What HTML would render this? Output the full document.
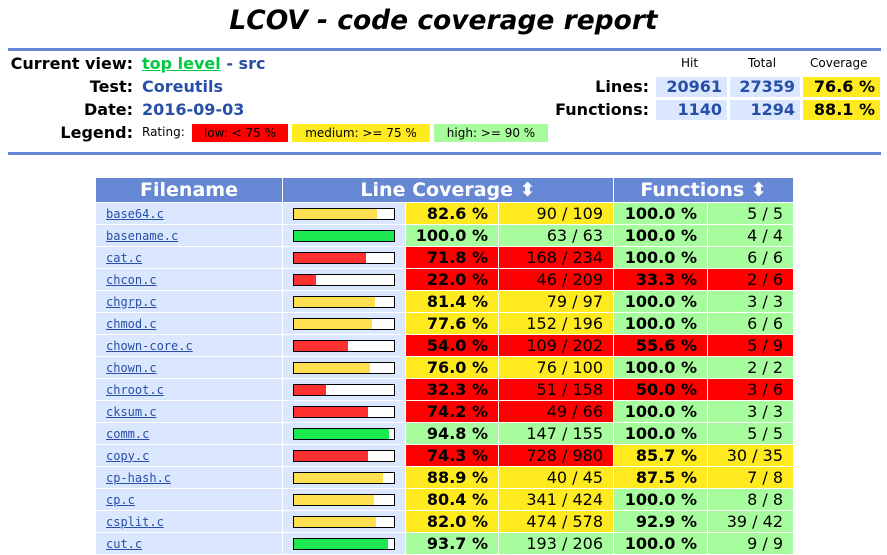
<!DOCTYPE html>
<html><head><meta charset="utf-8"><style>
body{margin:0;width:887px;height:549px;overflow:hidden;background:#fff;font-family:"DejaVu Sans","Liberation Sans",sans-serif;}
.a{position:absolute;white-space:nowrap}
.t{font-weight:bold;font-size:16px}
.hr{position:absolute;left:8px;width:873px;height:3px;background:#6688d4}
.v{color:#284fa8}
.box{position:absolute;height:20px;line-height:20px;font-weight:bold;font-size:16px;text-align:right;padding-right:5px;box-sizing:border-box}
.lg{font-size:12px;line-height:18px;text-align:center;height:18px;top:124px;position:absolute}
table{position:absolute;left:95px;top:177px;border-collapse:separate;border-spacing:1px;font-size:16px}
th{background:#6688d4;color:#fff;font-size:19px;height:24px;padding:0;font-weight:bold}
td{height:21px;padding:0}
td.f{background:#dae7fe;width:186px;font-size:12px;padding-left:10px;box-sizing:border-box}
td.f a{color:#284fa8;text-decoration:underline;font-family:"DejaVu Sans Mono","Liberation Mono",monospace}
td.b{background:#dae7fe;width:122px}
.bar{margin-left:10px;width:100px;height:10px;border:1px solid #000;background:#fff;position:relative}
.bar i{position:absolute;left:0;top:0;bottom:0}
td.p{width:92px;text-align:right;font-weight:bold;padding-right:10px;box-sizing:border-box}
td.n{width:114px;text-align:right;padding-right:10px;box-sizing:border-box}
td.fp{width:93px;text-align:right;font-weight:bold;padding-right:10px;box-sizing:border-box}
td.fn{width:85px;text-align:right;padding-right:10px;box-sizing:border-box}
.H{background:#a7fc9d}.M{background:#ffea20}.L{background:#ff0000}
.bH{background:#1ce850}.bM{background:#ffe050}.bL{background:#ff3030}
</style></head><body>
<div class="a" style="left:0;width:887px;top:5px;text-align:center;font-size:26.5px;font-weight:bold;font-style:italic">LCOV - code coverage report</div>
<div class="hr" style="top:48px"></div>
<div class="a t" style="right:754px;top:54px">Current view:</div>
<div class="a t" style="left:142px;top:54px"><span style="color:#00cb40;text-decoration:underline">top level</span> <span class="v">- src</span></div>
<div class="a t" style="right:754px;top:77px">Test:</div>
<div class="a t v" style="left:142px;top:77px">Coreutils</div>
<div class="a t" style="right:754px;top:100px">Date:</div>
<div class="a t v" style="left:142px;top:100px">2016-09-03</div>
<div class="a t" style="right:754px;top:123px">Legend:</div>
<div class="a" style="left:142px;top:125px;font-size:12px">Rating:</div>
<div class="lg" style="left:192px;width:96px;background:#f00">low: &lt; 75 %</div>
<div class="lg" style="left:292px;width:138px;background:#ffea20">medium: &gt;= 75 %</div>
<div class="lg" style="left:434px;width:114px;background:#a7fc9d">high: &gt;= 90 %</div>
<div class="a" style="left:681px;top:56px;font-size:12px">Hit</div>
<div class="a" style="left:748px;top:56px;font-size:12px">Total</div>
<div class="a" style="left:810px;top:56px;font-size:12px">Coverage</div>
<div class="a t" style="right:238px;top:77px">Lines:</div>
<div class="a t" style="right:238px;top:100px">Functions:</div>
<div class="box v" style="left:656px;top:77px;width:71px;background:#dae7fe">20961</div>
<div class="box v" style="left:730px;top:77px;width:70px;background:#dae7fe">27359</div>
<div class="box" style="left:803px;top:77px;width:77px;background:#ffea20">76.6 %</div>
<div class="box v" style="left:656px;top:100px;width:71px;background:#dae7fe">1140</div>
<div class="box v" style="left:730px;top:100px;width:70px;background:#dae7fe">1294</div>
<div class="box" style="left:803px;top:100px;width:77px;background:#ffea20">88.1 %</div>
<div class="hr" style="top:152px"></div>
<table>
<tr><th>Filename</th><th colspan="3">Line Coverage &#x2b0d;</th><th colspan="2">Functions &#x2b0d;</th></tr>
<tr><td class="f"><a>base64.c</a></td><td class="b"><div class="bar"><i class="bM" style="width:82.6%"></i></div></td><td class="p M">82.6 %</td><td class="n M">90 / 109</td><td class="fp H">100.0 %</td><td class="fn H">5 / 5</td></tr>
<tr><td class="f"><a>basename.c</a></td><td class="b"><div class="bar"><i class="bH" style="width:100%"></i></div></td><td class="p H">100.0 %</td><td class="n H">63 / 63</td><td class="fp H">100.0 %</td><td class="fn H">4 / 4</td></tr>
<tr><td class="f"><a>cat.c</a></td><td class="b"><div class="bar"><i class="bL" style="width:71.8%"></i></div></td><td class="p L">71.8 %</td><td class="n L">168 / 234</td><td class="fp H">100.0 %</td><td class="fn H">6 / 6</td></tr>
<tr><td class="f"><a>chcon.c</a></td><td class="b"><div class="bar"><i class="bL" style="width:22%"></i></div></td><td class="p L">22.0 %</td><td class="n L">46 / 209</td><td class="fp L">33.3 %</td><td class="fn L">2 / 6</td></tr>
<tr><td class="f"><a>chgrp.c</a></td><td class="b"><div class="bar"><i class="bM" style="width:81.4%"></i></div></td><td class="p M">81.4 %</td><td class="n M">79 / 97</td><td class="fp H">100.0 %</td><td class="fn H">3 / 3</td></tr>
<tr><td class="f"><a>chmod.c</a></td><td class="b"><div class="bar"><i class="bM" style="width:77.6%"></i></div></td><td class="p M">77.6 %</td><td class="n M">152 / 196</td><td class="fp H">100.0 %</td><td class="fn H">6 / 6</td></tr>
<tr><td class="f"><a>chown-core.c</a></td><td class="b"><div class="bar"><i class="bL" style="width:54%"></i></div></td><td class="p L">54.0 %</td><td class="n L">109 / 202</td><td class="fp L">55.6 %</td><td class="fn L">5 / 9</td></tr>
<tr><td class="f"><a>chown.c</a></td><td class="b"><div class="bar"><i class="bM" style="width:76%"></i></div></td><td class="p M">76.0 %</td><td class="n M">76 / 100</td><td class="fp H">100.0 %</td><td class="fn H">2 / 2</td></tr>
<tr><td class="f"><a>chroot.c</a></td><td class="b"><div class="bar"><i class="bL" style="width:32.3%"></i></div></td><td class="p L">32.3 %</td><td class="n L">51 / 158</td><td class="fp L">50.0 %</td><td class="fn L">3 / 6</td></tr>
<tr><td class="f"><a>cksum.c</a></td><td class="b"><div class="bar"><i class="bL" style="width:74.2%"></i></div></td><td class="p L">74.2 %</td><td class="n L">49 / 66</td><td class="fp H">100.0 %</td><td class="fn H">3 / 3</td></tr>
<tr><td class="f"><a>comm.c</a></td><td class="b"><div class="bar"><i class="bH" style="width:94.8%"></i></div></td><td class="p H">94.8 %</td><td class="n H">147 / 155</td><td class="fp H">100.0 %</td><td class="fn H">5 / 5</td></tr>
<tr><td class="f"><a>copy.c</a></td><td class="b"><div class="bar"><i class="bL" style="width:74.3%"></i></div></td><td class="p L">74.3 %</td><td class="n L">728 / 980</td><td class="fp M">85.7 %</td><td class="fn M">30 / 35</td></tr>
<tr><td class="f"><a>cp-hash.c</a></td><td class="b"><div class="bar"><i class="bM" style="width:88.9%"></i></div></td><td class="p M">88.9 %</td><td class="n M">40 / 45</td><td class="fp M">87.5 %</td><td class="fn M">7 / 8</td></tr>
<tr><td class="f"><a>cp.c</a></td><td class="b"><div class="bar"><i class="bM" style="width:80.4%"></i></div></td><td class="p M">80.4 %</td><td class="n M">341 / 424</td><td class="fp H">100.0 %</td><td class="fn H">8 / 8</td></tr>
<tr><td class="f"><a>csplit.c</a></td><td class="b"><div class="bar"><i class="bM" style="width:82%"></i></div></td><td class="p M">82.0 %</td><td class="n M">474 / 578</td><td class="fp H">92.9 %</td><td class="fn H">39 / 42</td></tr>
<tr><td class="f"><a>cut.c</a></td><td class="b"><div class="bar"><i class="bH" style="width:93.7%"></i></div></td><td class="p H">93.7 %</td><td class="n H">193 / 206</td><td class="fp H">100.0 %</td><td class="fn H">9 / 9</td></tr>
</table>
</body></html>
